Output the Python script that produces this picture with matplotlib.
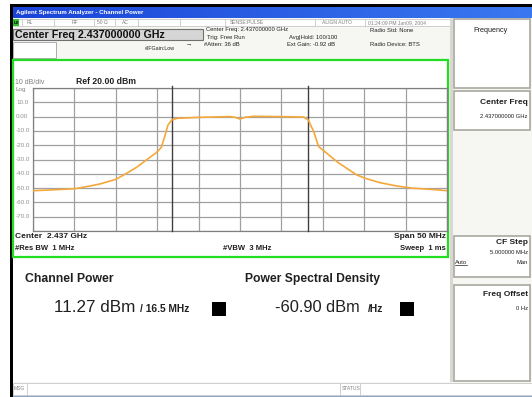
import numpy as np
import matplotlib
matplotlib.use("Agg")
import matplotlib.pyplot as plt
from matplotlib.patches import Rectangle

plt.rcParams["font.family"] = ["Liberation Sans", "DejaVu Sans"]

# trace: offset from centre (MHz) and level (dBm)
freq_mhz = [-25.0, -22.9, -19.9, -18.1, -16.9, -15.0, -13.7, -12.5, -11.3, -10.1,
            -9.5, -9.1, -8.7, -8.25, -7.6, -4.8, -1.2, -0.6, 0.0, 0.6, 1.6, 4.8,
            7.7, 8.25, 8.9, 9.5, 10.5, 11.7, 12.9, 14.1, 15.1, 16.9, 18.9, 20.9,
            22.9, 25.0]
level_dbm = [-51.8, -51.3, -50.4, -48.5, -47.1, -43.9, -39.7, -35.5, -30.3, -25.2,
             -21.5, -14.1, -5.9, -2.4, -1.2, -0.5, 0.0, -0.5, -1.7, -0.5, 0.2, 0.0,
             -0.3, -2.4, -10.5, -21.0, -25.7, -31.5, -36.2, -40.8, -43.1, -46.2,
             -48.5, -50.1, -50.8, -51.8]

ref_level = 20.0
db_per_div = 10
span_mhz = 50
center_ghz = 2.437
channel_bw_mhz = 16.5
channel_power = 11.27
psd = -60.90
y_labels = ["10.0", "0.00", "-10.0", "-20.0", "-30.0", "-40.0", "-50.0", "-60.0", "-70.0"]
y_label_levels = [10, 0, -10, -20, -30, -40, -50, -60, -70]

W, H = 532, 397
fig = plt.figure(figsize=(W / 100, H / 100), dpi=100)
fig.patch.set_facecolor("#ffffff")

# screen chrome drawn in pixel coordinates
bg = fig.add_axes([0, 0, 1, 1])
bg.set_xlim(0, W)
bg.set_ylim(H, 0)
bg.axis("off")


def box(x0, y0, x1, y1, fc="none", ec="none", lw=1.0, z=1):
    bg.add_patch(Rectangle((x0, y0), x1 - x0, y1 - y0, facecolor=fc,
                           edgecolor=ec, linewidth=lw, zorder=z))


def txt(x, y, s, size=4.5, color="#202020", ha="left", weight="normal", **kw):
    bg.text(x, y, s, fontsize=size, color=color, ha=ha, va="center",
            fontweight=weight, **kw)


box(10, 4, W, H, fc="#f6f6f2")
box(10, 4, 13, H, fc="#000000")
box(10, 4, W, 7, fc="#000000")

# title bar gradient
grad = np.linspace(0, 1, 256).reshape(1, -1)
bg.imshow(grad, extent=(13, W, 18, 7), cmap=matplotlib.colors.LinearSegmentedColormap.from_list(
    "tb", ["#1a44d8", "#3a78f0"]), aspect="auto", zorder=2)
txt(16, 12.5, "Agilent Spectrum Analyzer - Channel Power", size=4.4, color="white",
    weight="bold", zorder=3)

# status row
box(13, 19, 450, 26, fc="#ffffff", ec="#c8c8c8", lw=0.6)
for xs in [22, 54, 94, 115, 138, 180, 225, 315, 365]:
    bg.plot([xs, xs], [19, 26], color="#c8c8c8", lw=0.6)
box(13, 19, 19, 26, fc="#30c030")
txt(14, 22.5, "LX", size=3.2, color="#000000", weight="bold")
for x, s in [(27, "RL"), (72, "RF"), (97, "50 Ω"), (122, "AC"), (230, "SENSE:PULSE"),
             (322, "ALIGN AUTO"), (368, "01:24:09 PM Jan09, 2004")]:
    txt(x, 22.5, s, size=3.6, color="#808080")

# active function
box(13, 29, 203, 40, fc="#d6d6d6", ec="#707070", lw=0.8)
txt(15, 34.5, f"Center Freq {center_ghz:.9f} GHz", size=7.7, weight="bold", color="#101010")
box(13, 42, 56, 58, fc="#ffffff", ec="#a0a0a0", lw=0.6)
txt(145, 48, "#IFGain:Low", size=3.8)
txt(186, 44, "→", size=4.5)
txt(206, 30, f"Center Freq: {center_ghz:.9f} GHz", size=4.2)
txt(207, 37, "Trig: Free Run", size=4.2)
txt(204, 44, "#Atten: 36 dB", size=4.2)
txt(289, 37, "Avg|Hold: 100/100", size=4.2)
txt(287, 44, "Ext Gain: -0.92 dB", size=4.2)
txt(370, 30, "Radio Std: None", size=4.2)
txt(370, 44, "Radio Device: BTS", size=4.2)

# graticule frame and lower results area
box(13, 60, 448, 257, fc="#ffffff", ec="#22dd22", lw=1.6, z=2)
box(13, 258, 450, 382, fc="#ffffff", z=1)

# softkey panel
box(450, 18, 453, 382, fc="#d8d8d0")
for y0, y1 in [(19, 88), (91, 130), (236, 277), (285, 381)]:
    box(454, y0, 530, y1, fc="#ffffff", ec="#a8a8a0", lw=1.2, z=2)
txt(491, 30, "Frequency", size=5.2, ha="center", zorder=3)
txt(528, 103, "Center Freq", size=6, ha="right", weight="bold", zorder=3)
txt(528, 117, f"{center_ghz:.9f} GHz", size=4.2, ha="right", zorder=3)
txt(528, 243, "CF Step", size=6, ha="right", weight="bold", zorder=3)
txt(528, 253, "5.000000 MHz", size=4.2, ha="right", zorder=3)
txt(455, 262, "Auto", size=4.2, zorder=3)
bg.plot([455, 467], [265, 265], color="#202020", lw=0.5, zorder=3)
txt(528, 262, "Man", size=4.2, ha="right", zorder=3)
txt(528, 295, "Freq Offset", size=6, ha="right", weight="bold", zorder=3)
txt(528, 309, "0 Hz", size=4.2, ha="right", zorder=3)

# message bar
box(13, 383, W, 395, fc="#ffffff", ec="#c8c8c8", lw=0.6)
bg.plot([27, 27], [383, 395], color="#c8c8c8", lw=0.6)
bg.plot([340, 340], [383, 395], color="#c8c8c8", lw=0.6)
bg.plot([360, 360], [383, 395], color="#c8c8c8", lw=0.6)
bg.plot([13, W], [395.5, 395.5], color="#90a8c8", lw=0.8)
txt(14, 389, "MSG", size=3.6, color="#808080")
txt(342, 389, "STATUS", size=3.6, color="#808080")

# graticule annotations
txt(15, 82, f"{db_per_div} dB/div", size=5, color="#808080", zorder=3)
txt(76, 82, f"Ref {ref_level:.2f} dBm", size=6.2, weight="bold", zorder=3)
txt(15, 90, "Log", size=4.5, color="#808080", zorder=3)
txt(15, 237, f"Center  {center_ghz:.3f} GHz", size=6, weight="bold", zorder=3)
txt(15, 248, "#Res BW  1 MHz", size=5.5, weight="bold", zorder=3)
txt(223, 248, "#VBW  3 MHz", size=5.5, weight="bold", zorder=3)
txt(446, 237, f"Span {span_mhz} MHz", size=6, ha="right", weight="bold", zorder=3)
txt(446, 248, "Sweep  1 ms", size=5.5, ha="right", weight="bold", zorder=3)

# measurement results
txt(25, 279, "Channel Power", size=8.8, weight="bold", zorder=3)
txt(245, 279, "Power Spectral Density", size=8.7, weight="bold", zorder=3)
txt(54, 308, f"{channel_power:.2f} dBm", size=12.3, zorder=3)
txt(140, 309, f"/ {channel_bw_mhz} MHz", size=7.4, weight="bold", zorder=3)
box(212, 302, 226, 316, fc="#000000", z=3)
txt(275, 308, f"{psd:.2f} dBm", size=11.8, zorder=3)
txt(368, 309, "/Hz", size=7.4, weight="bold", zorder=3)
box(400, 302, 414, 316, fc="#000000", z=3)

# spectrum trace
ax = fig.add_axes([33 / W, 1 - 231 / H, 414 / W, 143 / H])
ax.set_facecolor("#ffffff")
ax.set_xlim(-span_mhz / 2, span_mhz / 2)
ax.set_ylim(ref_level - 10 * db_per_div, ref_level)
ax.set_xticks(np.arange(-span_mhz / 2, span_mhz / 2 + 0.1, span_mhz / 10))
ax.set_yticks(np.arange(ref_level - 10 * db_per_div, ref_level + 0.1, db_per_div))
ax.grid(True, color="#a0a0a0", linewidth=0.9)
ax.tick_params(length=0, labelbottom=False, labelleft=False)
for sp in ax.spines.values():
    sp.set_edgecolor("#808080")
    sp.set_linewidth(0.9)
for xc in (-channel_bw_mhz / 2, channel_bw_mhz / 2):
    ax.axvline(xc, ymin=0, ymax=1.015, color="#404040", lw=1.0, clip_on=False, zorder=3)
ax.plot(freq_mhz, level_dbm, color="#f4a83a", lw=1.2, zorder=4)
ytf = ax.get_yaxis_transform()
for lab, lev in zip(y_labels, y_label_levels):
    ax.text(-17 / 414, lev, lab, transform=ytf, fontsize=4.5, color="#909090",
            ha="left", va="center")

fig.savefig("out.png", dpi=100)
